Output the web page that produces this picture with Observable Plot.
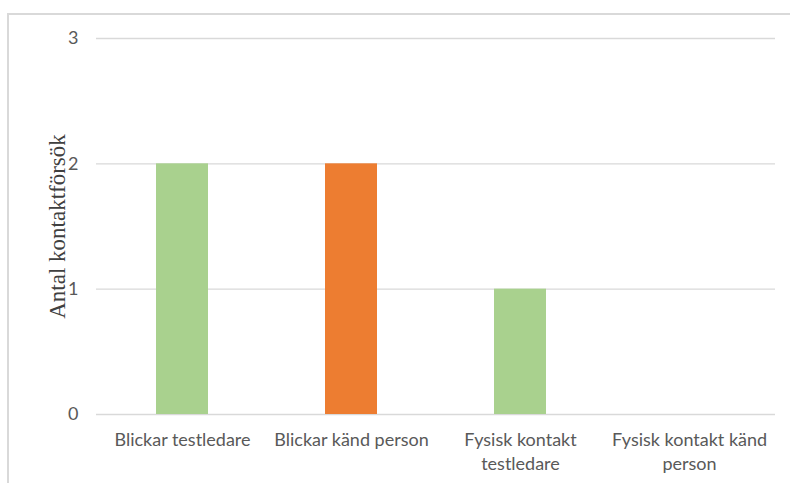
<!DOCTYPE html>
<html>
<head>
<meta charset="utf-8">
<script src="https://cdn.jsdelivr.net/npm/d3@7"></script>
<script src="https://cdn.jsdelivr.net/npm/@observablehq/plot@0.6"></script>
<style>
  html, body { margin: 0; padding: 0; background: #fff; }
  #wrap { position: relative; width: 790px; height: 483px; overflow: hidden; }
  #frame { position: absolute; left: 7px; top: 13px; width: 800px; height: 480px;
           border-left: 2px solid #d9d9d9; border-top: 2px solid #d9d9d9; box-sizing: border-box; }
  #chart { position: absolute; left: 0; top: 0; }
</style>
</head>
<body>
<div id="wrap"><div id="frame"></div><div id="chart"></div></div>
<script>
// Number of contact attempts per condition
const categories = ["Blickar testledare", "Blickar känd person", "Fysisk kontakt testledare", "Fysisk kontakt känd person"];
const values = [2, 2, 1, 0];
const barColors = ["#a9d18e", "#ed7d31", "#a9d18e", "#a9d18e"];
const tickLabels = ["Blickar testledare", "Blickar känd person", "Fysisk kontakt\ntestledare", "Fysisk kontakt känd\nperson"];
const yTicks = [0, 1, 2, 3];

const rows = categories.map((c, i) => ({category: c, value: values[i], color: barColors[i]}));
const labelOf = new Map(categories.map((c, i) => [c, tickLabels[i]]));

const chart = Plot.plot({
  width: 790,
  height: 483,
  marginLeft: 96,
  marginRight: 15,
  marginTop: 38,
  marginBottom: 69,
  style: {fontFamily: "Lato, sans-serif", background: "transparent"},
  x: {domain: categories, paddingInner: 0.69, paddingOuter: 0.345, label: null},
  y: {domain: [0, 3], label: null},
  marks: [
    Plot.gridY(yTicks, {stroke: "#d9d9d9", strokeOpacity: 1, strokeWidth: 1.3}),
    Plot.barY(rows, {x: "category", y: "value", fill: "color"}),
    Plot.axisY(yTicks, {tickSize: 0, tickPadding: 18, fontSize: 18, fill: "#595959", tickFormat: d3.format("d"), label: null}),
    Plot.axisX({tickSize: 0, tickPadding: 15, fontSize: 18, fill: "#595959", lineHeight: 1.3,
                tickFormat: d => labelOf.get(d), label: null}),
    Plot.text(["Antal kontaktförsök"], {
      frameAnchor: "left", textAnchor: "middle", dx: -39, rotate: -90, fontSize: 23,
      fontFamily: "Liberation Serif, serif", fill: "#404040"
    })
  ]
});
document.getElementById("chart").appendChild(chart);
</script>
</body>
</html>
